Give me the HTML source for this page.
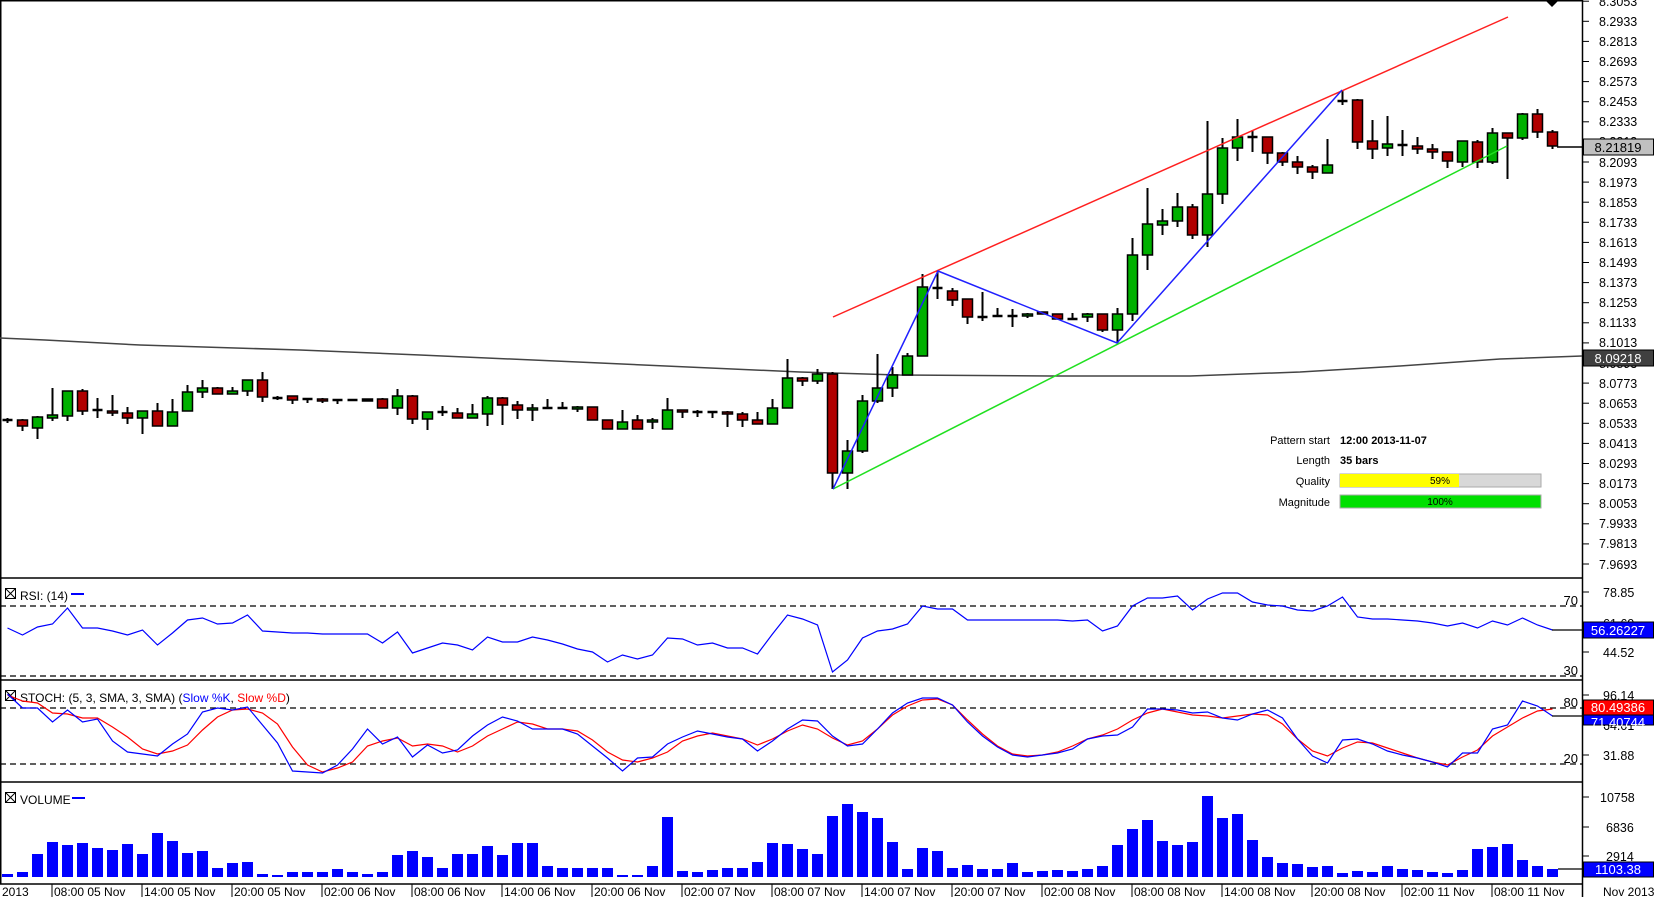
<!DOCTYPE html>
<html><head><meta charset="utf-8"><style>
html,body{margin:0;padding:0;background:#fff;}
svg{display:block;font-family:"Liberation Sans",sans-serif;}
</style></head><body>
<svg width="1655" height="897" viewBox="0 0 1655 897" xmlns="http://www.w3.org/2000/svg">
<rect width="1655" height="897" fill="#fff"/>
<g stroke="#000" stroke-width="1.5" fill="none">
<line x1="0.75" y1="0" x2="0.75" y2="884"/>
<line x1="0" y1="0.75" x2="1582" y2="0.75"/>
<line x1="1582.5" y1="0" x2="1582.5" y2="897"/>
<line x1="0" y1="578" x2="1582" y2="578"/>
<line x1="0" y1="680" x2="1582" y2="680"/>
<line x1="0" y1="782" x2="1582" y2="782"/>
<line x1="0" y1="884" x2="1582" y2="884"/>
</g>
<polygon points="1545,0 1559,0 1552,7" fill="#000"/>
<g stroke="#000" stroke-width="1">
<line x1="1582" y1="1.2" x2="1589" y2="1.2"/><line x1="1582" y1="21.3" x2="1589" y2="21.3"/><line x1="1582" y1="41.4" x2="1589" y2="41.4"/><line x1="1582" y1="61.5" x2="1589" y2="61.5"/><line x1="1582" y1="81.6" x2="1589" y2="81.6"/><line x1="1582" y1="101.7" x2="1589" y2="101.7"/><line x1="1582" y1="121.8" x2="1589" y2="121.8"/><line x1="1582" y1="141.9" x2="1589" y2="141.9"/><line x1="1582" y1="162" x2="1589" y2="162"/><line x1="1582" y1="182.1" x2="1589" y2="182.1"/><line x1="1582" y1="202.2" x2="1589" y2="202.2"/><line x1="1582" y1="222.3" x2="1589" y2="222.3"/><line x1="1582" y1="242.4" x2="1589" y2="242.4"/><line x1="1582" y1="262.5" x2="1589" y2="262.5"/><line x1="1582" y1="282.6" x2="1589" y2="282.6"/><line x1="1582" y1="302.7" x2="1589" y2="302.7"/><line x1="1582" y1="322.8" x2="1589" y2="322.8"/><line x1="1582" y1="342.9" x2="1589" y2="342.9"/><line x1="1582" y1="363" x2="1589" y2="363"/><line x1="1582" y1="383.1" x2="1589" y2="383.1"/><line x1="1582" y1="403.2" x2="1589" y2="403.2"/><line x1="1582" y1="423.3" x2="1589" y2="423.3"/><line x1="1582" y1="443.4" x2="1589" y2="443.4"/><line x1="1582" y1="463.5" x2="1589" y2="463.5"/><line x1="1582" y1="483.6" x2="1589" y2="483.6"/><line x1="1582" y1="503.7" x2="1589" y2="503.7"/><line x1="1582" y1="523.8" x2="1589" y2="523.8"/><line x1="1582" y1="543.9" x2="1589" y2="543.9"/><line x1="1582" y1="564" x2="1589" y2="564"/>
<line x1="1582" y1="592" x2="1589" y2="592"/><line x1="1582" y1="623" x2="1589" y2="623"/><line x1="1582" y1="652" x2="1589" y2="652"/>
<line x1="1582" y1="695" x2="1589" y2="695"/><line x1="1582" y1="725" x2="1589" y2="725"/><line x1="1582" y1="755" x2="1589" y2="755"/>
<line x1="1582" y1="797" x2="1589" y2="797"/><line x1="1582" y1="827" x2="1589" y2="827"/><line x1="1582" y1="856" x2="1589" y2="856"/>
</g>
<g font-size="12.5" fill="#000" text-anchor="start">
<text x="1599" y="6">8.3053</text><text x="1599" y="26">8.2933</text><text x="1599" y="46">8.2813</text><text x="1599" y="66">8.2693</text><text x="1599" y="86">8.2573</text><text x="1599" y="106">8.2453</text><text x="1599" y="126">8.2333</text><text x="1599" y="146">8.2213</text><text x="1599" y="167">8.2093</text><text x="1599" y="187">8.1973</text><text x="1599" y="207">8.1853</text><text x="1599" y="227">8.1733</text><text x="1599" y="247">8.1613</text><text x="1599" y="267">8.1493</text><text x="1599" y="287">8.1373</text><text x="1599" y="307">8.1253</text><text x="1599" y="327">8.1133</text><text x="1599" y="347">8.1013</text><text x="1599" y="368">8.0893</text><text x="1599" y="388">8.0773</text><text x="1599" y="408">8.0653</text><text x="1599" y="428">8.0533</text><text x="1599" y="448">8.0413</text><text x="1599" y="468">8.0293</text><text x="1599" y="488">8.0173</text><text x="1599" y="508">8.0053</text><text x="1599" y="528">7.9933</text><text x="1599" y="548">7.9813</text><text x="1599" y="569">7.9693</text>
<text x="1603" y="597">78.85</text><text x="1603" y="628">61.69</text><text x="1603" y="657">44.52</text>
<text x="1603" y="700">96.14</text><text x="1603" y="730">64.01</text><text x="1603" y="760">31.88</text>
<text x="1600" y="802">10758</text><text x="1606" y="832">6836</text><text x="1606" y="861">2914</text>
</g>
<polyline fill="none" stroke="#444" stroke-width="1.5" points="0,338 45,340 140,345 300,350 420,355 600,363 800,372 900,375 1050,376 1190,376 1300,372 1400,366 1500,359 1582,356"/>
<g stroke="#000" stroke-width="2">
<line x1="7.5" y1="418" x2="7.5" y2="423"/><line x1="22.5" y1="419" x2="22.5" y2="431"/><line x1="37.5" y1="416" x2="37.5" y2="439"/><line x1="52.5" y1="388" x2="52.5" y2="421"/><line x1="67.5" y1="391" x2="67.5" y2="421"/><line x1="82.5" y1="389" x2="82.5" y2="415"/><line x1="97.5" y1="398" x2="97.5" y2="418"/><line x1="112.5" y1="395" x2="112.5" y2="416"/><line x1="127.5" y1="407" x2="127.5" y2="424"/><line x1="142.5" y1="411" x2="142.5" y2="434"/><line x1="157.5" y1="403" x2="157.5" y2="426"/><line x1="172.5" y1="399" x2="172.5" y2="426"/><line x1="187.5" y1="385" x2="187.5" y2="411"/><line x1="202.5" y1="380" x2="202.5" y2="398"/><line x1="217.5" y1="387" x2="217.5" y2="394"/><line x1="232.5" y1="387" x2="232.5" y2="394"/><line x1="247.5" y1="380" x2="247.5" y2="396"/><line x1="262.5" y1="372" x2="262.5" y2="402"/><line x1="277.5" y1="396" x2="277.5" y2="400"/><line x1="292.5" y1="396" x2="292.5" y2="404"/><line x1="307.5" y1="398" x2="307.5" y2="403"/><line x1="322.5" y1="398" x2="322.5" y2="403"/><line x1="337.5" y1="400" x2="337.5" y2="404"/><line x1="352.5" y1="399" x2="352.5" y2="401"/><line x1="367.5" y1="399" x2="367.5" y2="401"/><line x1="382.5" y1="398" x2="382.5" y2="408"/><line x1="397.5" y1="389" x2="397.5" y2="415"/><line x1="412.5" y1="395" x2="412.5" y2="424"/><line x1="427.5" y1="412" x2="427.5" y2="430"/><line x1="442.5" y1="406" x2="442.5" y2="416"/><line x1="457.5" y1="408" x2="457.5" y2="418"/><line x1="472.5" y1="404" x2="472.5" y2="418"/><line x1="487.5" y1="396" x2="487.5" y2="426"/><line x1="502.5" y1="397" x2="502.5" y2="425"/><line x1="517.5" y1="401" x2="517.5" y2="419"/><line x1="532.5" y1="404" x2="532.5" y2="421"/><line x1="547.5" y1="399" x2="547.5" y2="408"/><line x1="562.5" y1="402" x2="562.5" y2="409"/><line x1="577.5" y1="406" x2="577.5" y2="412"/><line x1="592.5" y1="407" x2="592.5" y2="420"/><line x1="607.5" y1="420" x2="607.5" y2="429"/><line x1="622.5" y1="410" x2="622.5" y2="429"/><line x1="637.5" y1="415" x2="637.5" y2="429"/><line x1="652.5" y1="418" x2="652.5" y2="429"/><line x1="667.5" y1="398" x2="667.5" y2="429"/><line x1="682.5" y1="410" x2="682.5" y2="418"/><line x1="697.5" y1="410" x2="697.5" y2="417"/><line x1="712.5" y1="411" x2="712.5" y2="418"/><line x1="727.5" y1="411" x2="727.5" y2="427"/><line x1="742.5" y1="412" x2="742.5" y2="427"/><line x1="757.5" y1="412" x2="757.5" y2="424"/><line x1="772.5" y1="399" x2="772.5" y2="424"/><line x1="787.5" y1="359" x2="787.5" y2="408"/><line x1="802.5" y1="377" x2="802.5" y2="386"/><line x1="817.5" y1="369" x2="817.5" y2="384"/><line x1="832.5" y1="372" x2="832.5" y2="489"/><line x1="847.5" y1="440" x2="847.5" y2="489"/><line x1="862.5" y1="395" x2="862.5" y2="453"/><line x1="877.5" y1="354" x2="877.5" y2="403"/><line x1="892.5" y1="367" x2="892.5" y2="397"/><line x1="907.5" y1="353" x2="907.5" y2="375"/><line x1="922.5" y1="274" x2="922.5" y2="356"/><line x1="937.5" y1="271" x2="937.5" y2="299"/><line x1="952.5" y1="288" x2="952.5" y2="306"/><line x1="967.5" y1="299" x2="967.5" y2="324"/><line x1="982.5" y1="292" x2="982.5" y2="321"/><line x1="997.5" y1="308" x2="997.5" y2="316"/><line x1="1012.5" y1="309" x2="1012.5" y2="327"/><line x1="1027.5" y1="313" x2="1027.5" y2="318"/><line x1="1042.5" y1="312" x2="1042.5" y2="314"/><line x1="1057.5" y1="314" x2="1057.5" y2="319"/><line x1="1072.5" y1="313" x2="1072.5" y2="319"/><line x1="1087.5" y1="313" x2="1087.5" y2="322"/><line x1="1102.5" y1="314" x2="1102.5" y2="332"/><line x1="1117.5" y1="308" x2="1117.5" y2="343"/><line x1="1132.5" y1="238" x2="1132.5" y2="321"/><line x1="1147.5" y1="188" x2="1147.5" y2="270"/><line x1="1162.5" y1="209" x2="1162.5" y2="235"/><line x1="1177.5" y1="193" x2="1177.5" y2="227"/><line x1="1192.5" y1="204" x2="1192.5" y2="239"/><line x1="1207.5" y1="121" x2="1207.5" y2="247"/><line x1="1222.5" y1="138" x2="1222.5" y2="204"/><line x1="1237.5" y1="119" x2="1237.5" y2="161"/><line x1="1252.5" y1="130" x2="1252.5" y2="152"/><line x1="1267.5" y1="137" x2="1267.5" y2="164"/><line x1="1282.5" y1="152" x2="1282.5" y2="166"/><line x1="1297.5" y1="156" x2="1297.5" y2="174"/><line x1="1312.5" y1="165" x2="1312.5" y2="179"/><line x1="1327.5" y1="139" x2="1327.5" y2="173"/><line x1="1342.5" y1="90" x2="1342.5" y2="105"/><line x1="1357.5" y1="99" x2="1357.5" y2="149"/><line x1="1372.5" y1="120" x2="1372.5" y2="159"/><line x1="1387.5" y1="116" x2="1387.5" y2="156"/><line x1="1402.5" y1="130" x2="1402.5" y2="156"/><line x1="1417.5" y1="137" x2="1417.5" y2="154"/><line x1="1432.5" y1="144" x2="1432.5" y2="159"/><line x1="1447.5" y1="152" x2="1447.5" y2="168"/><line x1="1462.5" y1="141" x2="1462.5" y2="167"/><line x1="1477.5" y1="140" x2="1477.5" y2="168"/><line x1="1492.5" y1="128" x2="1492.5" y2="164"/><line x1="1507.5" y1="133" x2="1507.5" y2="179"/><line x1="1522.5" y1="113" x2="1522.5" y2="140"/><line x1="1537.5" y1="109" x2="1537.5" y2="138"/><line x1="1552.5" y1="130" x2="1552.5" y2="149"/>
<g stroke-width="2.5"><line x1="2.5" y1="420" x2="12.5" y2="420"/><line x1="92.5" y1="410" x2="102.5" y2="410"/><line x1="272.5" y1="398" x2="282.5" y2="398"/><line x1="302.5" y1="399" x2="312.5" y2="399"/><line x1="332.5" y1="400" x2="342.5" y2="400"/><line x1="347.5" y1="400" x2="357.5" y2="400"/><line x1="437.5" y1="412" x2="447.5" y2="412"/><line x1="542.5" y1="408" x2="552.5" y2="408"/><line x1="557.5" y1="408" x2="567.5" y2="408"/><line x1="692.5" y1="412" x2="702.5" y2="412"/><line x1="707.5" y1="412" x2="717.5" y2="412"/><line x1="932.5" y1="288" x2="942.5" y2="288"/><line x1="977.5" y1="317" x2="987.5" y2="317"/><line x1="992.5" y1="316" x2="1002.5" y2="316"/><line x1="1007.5" y1="316" x2="1017.5" y2="316"/><line x1="1067.5" y1="319" x2="1077.5" y2="319"/><line x1="1247.5" y1="137" x2="1257.5" y2="137"/><line x1="1337.5" y1="101" x2="1347.5" y2="101"/><line x1="1397.5" y1="145" x2="1407.5" y2="145"/></g>
</g>
<g stroke="#000" stroke-width="1.5">
<g fill="#b00000">
<rect x="17.5" y="420" width="10" height="6"/><rect x="77.5" y="391" width="10" height="20"/><rect x="107.5" y="411" width="10" height="2"/><rect x="122.5" y="413" width="10" height="5"/><rect x="152.5" y="411" width="10" height="15"/><rect x="212.5" y="388" width="10" height="6"/><rect x="257.5" y="380" width="10" height="17"/><rect x="287.5" y="396" width="10" height="4"/><rect x="317.5" y="399" width="10" height="2"/><rect x="362.5" y="399" width="10" height="2" fill="#000"/><rect x="377.5" y="399" width="10" height="9"/><rect x="407.5" y="396" width="10" height="23"/><rect x="452.5" y="413" width="10" height="5"/><rect x="497.5" y="398" width="10" height="7"/><rect x="512.5" y="405" width="10" height="5"/><rect x="587.5" y="407" width="10" height="13"/><rect x="602.5" y="420" width="10" height="9"/><rect x="632.5" y="420" width="10" height="9"/><rect x="677.5" y="410" width="10" height="2"/><rect x="722.5" y="412" width="10" height="2"/><rect x="737.5" y="414" width="10" height="6"/><rect x="752.5" y="420" width="10" height="4"/><rect x="797.5" y="378" width="10" height="3"/><rect x="827.5" y="374" width="10" height="99"/><rect x="947.5" y="291" width="10" height="9"/><rect x="962.5" y="299" width="10" height="18"/><rect x="1037.5" y="312" width="10" height="2"/><rect x="1052.5" y="314" width="10" height="5"/><rect x="1097.5" y="314" width="10" height="16"/><rect x="1187.5" y="207" width="10" height="28"/><rect x="1262.5" y="137" width="10" height="16"/><rect x="1277.5" y="153" width="10" height="9"/><rect x="1292.5" y="162" width="10" height="5"/><rect x="1307.5" y="167" width="10" height="5"/><rect x="1352.5" y="100" width="10" height="42"/><rect x="1367.5" y="141" width="10" height="8"/><rect x="1412.5" y="146" width="10" height="3"/><rect x="1427.5" y="149" width="10" height="3"/><rect x="1442.5" y="152" width="10" height="9"/><rect x="1472.5" y="142" width="10" height="20"/><rect x="1502.5" y="133" width="10" height="5"/><rect x="1532.5" y="114" width="10" height="18"/><rect x="1547.5" y="132" width="10" height="14"/>
</g>
<g fill="#00b000">
<rect x="32.5" y="417" width="10" height="11"/><rect x="47.5" y="415" width="10" height="3"/><rect x="62.5" y="391" width="10" height="25"/><rect x="137.5" y="411" width="10" height="7"/><rect x="167.5" y="412" width="10" height="14"/><rect x="182.5" y="392" width="10" height="19"/><rect x="197.5" y="388" width="10" height="4"/><rect x="227.5" y="391" width="10" height="3"/><rect x="242.5" y="380" width="10" height="11"/><rect x="392.5" y="396" width="10" height="12"/><rect x="422.5" y="412" width="10" height="7"/><rect x="467.5" y="414" width="10" height="4"/><rect x="482.5" y="398" width="10" height="16"/><rect x="527.5" y="408" width="10" height="2"/><rect x="572.5" y="407" width="10" height="2"/><rect x="617.5" y="422" width="10" height="7"/><rect x="647.5" y="420" width="10" height="2"/><rect x="662.5" y="410" width="10" height="19"/><rect x="767.5" y="408" width="10" height="16"/><rect x="782.5" y="378" width="10" height="30"/><rect x="812.5" y="374" width="10" height="7"/><rect x="842.5" y="451" width="10" height="22"/><rect x="857.5" y="401" width="10" height="50"/><rect x="872.5" y="388" width="10" height="13"/><rect x="887.5" y="375" width="10" height="13"/><rect x="902.5" y="356" width="10" height="19"/><rect x="917.5" y="287" width="10" height="69"/><rect x="1022.5" y="314" width="10" height="2"/><rect x="1082.5" y="314" width="10" height="3"/><rect x="1112.5" y="314" width="10" height="16"/><rect x="1127.5" y="255" width="10" height="59"/><rect x="1142.5" y="224" width="10" height="31"/><rect x="1157.5" y="221" width="10" height="4"/><rect x="1172.5" y="207" width="10" height="14"/><rect x="1202.5" y="194" width="10" height="41"/><rect x="1217.5" y="148" width="10" height="46"/><rect x="1232.5" y="137" width="10" height="11"/><rect x="1322.5" y="165" width="10" height="8"/><rect x="1382.5" y="144" width="10" height="4"/><rect x="1457.5" y="141" width="10" height="21"/><rect x="1487.5" y="133" width="10" height="29"/><rect x="1517.5" y="114" width="10" height="24"/>
</g>
</g>
<line x1="1557" y1="147" x2="1582" y2="147" stroke="#000" stroke-width="1.5"/>
<line x1="833" y1="317" x2="1508" y2="17" stroke="#ff2020" stroke-width="1.5"/>
<line x1="833" y1="489" x2="1507" y2="146" stroke="#20e020" stroke-width="1.5"/>
<polyline fill="none" stroke="#2020ff" stroke-width="1.5" points="833,489 938,271 1117,343 1342,90"/>
<rect x="1583.5" y="139" width="70" height="16" fill="#c0c0c0" stroke="#000"/>
<text x="1618" y="152" font-size="13" text-anchor="middle">8.21819</text>
<rect x="1583.5" y="350" width="70" height="16" fill="#404040" stroke="#000"/>
<text x="1618" y="363" font-size="13" text-anchor="middle" fill="#fff">8.09218</text>
<g font-size="11" fill="#000">
<text x="1330" y="444" text-anchor="end">Pattern start</text><text x="1340" y="444" font-weight="bold">12:00 2013-11-07</text>
<text x="1330" y="464" text-anchor="end">Length</text><text x="1340" y="464" font-weight="bold">35 bars</text>
<text x="1330" y="485" text-anchor="end">Quality</text>
<text x="1330" y="506" text-anchor="end">Magnitude</text>
</g>
<rect x="1340" y="474" width="201" height="13" fill="#d8d8d8" stroke="#aaa"/>
<rect x="1340" y="474" width="119" height="13" fill="#ffff00"/>
<text x="1440" y="484" font-size="10" text-anchor="middle">59%</text>
<rect x="1340" y="495" width="201" height="13" fill="#00e000" stroke="#aaa"/>
<text x="1440" y="505" font-size="10" text-anchor="middle">100%</text>
<g stroke="#000" stroke-dasharray="6,4" stroke-width="1.2">
<line x1="0" y1="606" x2="1582" y2="606"/><line x1="0" y1="676" x2="1582" y2="676"/>
<line x1="0" y1="708" x2="1582" y2="708"/><line x1="0" y1="764" x2="1582" y2="764"/>
</g>
<g font-size="13"><text x="1578" y="605" text-anchor="end">70</text><text x="1578" y="675" text-anchor="end">30</text>
<text x="1578" y="707" text-anchor="end">80</text><text x="1578" y="763" text-anchor="end">20</text></g>
<g stroke="#000" fill="#fff" stroke-width="1"><rect x="5.5" y="588.5" width="10" height="10"/><rect x="5.5" y="690.5" width="10" height="10"/><rect x="5.5" y="792.5" width="10" height="10"/></g>
<g stroke="#000" stroke-width="1"><line x1="5.5" y1="588.5" x2="15.5" y2="598.5"/><line x1="15.5" y1="588.5" x2="5.5" y2="598.5"/><line x1="5.5" y1="690.5" x2="15.5" y2="700.5"/><line x1="15.5" y1="690.5" x2="5.5" y2="700.5"/><line x1="5.5" y1="792.5" x2="15.5" y2="802.5"/><line x1="15.5" y1="792.5" x2="5.5" y2="802.5"/></g>
<g font-size="12"><text x="20" y="600">RSI: (14)</text>
<text x="20" y="702">STOCH: (5, 3, SMA, 3, SMA) (<tspan fill="#0000ff">Slow %K</tspan>, <tspan fill="#ff0000">Slow %D</tspan>)</text>
<text x="20" y="804">VOLUME</text></g>
<line x1="71" y1="594" x2="84" y2="594" stroke="#0000ff" stroke-width="2"/>
<line x1="72" y1="798" x2="85" y2="798" stroke="#0000ff" stroke-width="2"/>
<polyline fill="none" stroke="#0000ff" stroke-width="1.2" points="7.5,628 22.5,635 37.5,627 52.5,624 67.5,608 82.5,628 97.5,628 112.5,631 127.5,635 142.5,630 157.5,645 172.5,633 187.5,620 202.5,618 217.5,624 232.5,623 247.5,615 262.5,631 277.5,632 292.5,633 307.5,633 322.5,634 337.5,634 352.5,634 367.5,634 382.5,643 397.5,632 412.5,653 427.5,648 442.5,643 457.5,645 472.5,650 487.5,637 502.5,642 517.5,642 532.5,637 547.5,640 562.5,644 577.5,649 592.5,652 607.5,662 622.5,655 637.5,659 652.5,655 667.5,638 682.5,639 697.5,645 712.5,643 727.5,648 742.5,648 757.5,654 772.5,634 787.5,615 802.5,619 817.5,625 832.5,672 847.5,660 862.5,638 877.5,631 892.5,629 907.5,624 922.5,606 937.5,609 952.5,609 967.5,620 982.5,620 997.5,620 1012.5,620 1027.5,620 1042.5,620 1057.5,620 1072.5,621 1087.5,620 1102.5,631 1117.5,626 1132.5,606 1147.5,598 1162.5,598 1177.5,596 1192.5,610 1207.5,599 1222.5,593 1237.5,593 1252.5,602 1267.5,605 1282.5,606 1297.5,610 1312.5,611 1327.5,606 1342.5,597 1357.5,617 1372.5,619 1387.5,619 1402.5,620 1417.5,621 1432.5,623 1447.5,626 1462.5,623 1477.5,628 1492.5,621 1507.5,625 1522.5,618 1537.5,625 1552.5,630"/>
<line x1="1552" y1="630" x2="1582" y2="630" stroke="#000" stroke-width="1.2"/>
<rect x="1583.5" y="622" width="70" height="16" fill="#0000ff" stroke="#000"/>
<text x="1618" y="635" font-size="13" text-anchor="middle" fill="#fff">56.26227</text>
<polyline fill="none" stroke="#ff0000" stroke-width="1.2" points="7.5,695 22.5,701 37.5,703 52.5,713 67.5,714 82.5,718 97.5,718 112.5,727 127.5,737 142.5,749 157.5,754 172.5,751 187.5,745 202.5,730 217.5,717 232.5,710 247.5,709 262.5,713 277.5,724 292.5,747 307.5,765 322.5,772 337.5,768 352.5,762 367.5,746 382.5,741 397.5,738 412.5,746 427.5,744 442.5,746 457.5,752 472.5,746 487.5,736 502.5,729 517.5,722 532.5,724 547.5,729 562.5,729 577.5,731 592.5,740 607.5,752 622.5,760 637.5,762 652.5,758 667.5,752 682.5,741 697.5,736 712.5,733 727.5,736 742.5,739 757.5,745 772.5,739 787.5,731 802.5,725 817.5,729 832.5,738 847.5,745 862.5,741 877.5,729 892.5,715 907.5,706 922.5,700 937.5,699 952.5,705 967.5,720 982.5,734 997.5,746 1012.5,754 1027.5,756 1042.5,755 1057.5,752 1072.5,746 1087.5,739 1102.5,735 1117.5,729 1132.5,720 1147.5,713 1162.5,709 1177.5,712 1192.5,715 1207.5,716 1222.5,718 1237.5,716 1252.5,714 1267.5,715 1282.5,724 1297.5,739 1312.5,751 1327.5,756 1342.5,748 1357.5,742 1372.5,743 1387.5,748 1402.5,753 1417.5,758 1432.5,762 1447.5,765 1462.5,757 1477.5,750 1492.5,736 1507.5,727 1522.5,718 1537.5,711 1552.5,709"/>
<polyline fill="none" stroke="#0000ff" stroke-width="1.2" points="7.5,694 22.5,708 37.5,708 52.5,722 67.5,710 82.5,722 97.5,719 112.5,741 127.5,752 142.5,754 157.5,756 172.5,744 187.5,734 202.5,712 217.5,708 232.5,710 247.5,707 262.5,725 277.5,743 292.5,771 307.5,772 322.5,773 337.5,765 352.5,749 367.5,729 382.5,744 397.5,737 412.5,757 427.5,745 442.5,753 457.5,750 472.5,736 487.5,725 502.5,717 517.5,721 532.5,729 547.5,729 562.5,729 577.5,734 592.5,746 607.5,758 622.5,771 637.5,758 652.5,757 667.5,744 682.5,737 697.5,731 712.5,734 727.5,737 742.5,739 757.5,751 772.5,741 787.5,729 802.5,720 817.5,721 832.5,736 847.5,746 862.5,744 877.5,729 892.5,713 907.5,703 922.5,698 937.5,698 952.5,705 967.5,722 982.5,736 997.5,747 1012.5,755 1027.5,757 1042.5,755 1057.5,753 1072.5,749 1087.5,739 1102.5,736 1117.5,735 1132.5,727 1147.5,709 1162.5,709 1177.5,710 1192.5,713 1207.5,712 1222.5,718 1237.5,720 1252.5,714 1267.5,710 1282.5,718 1297.5,739 1312.5,756 1327.5,763 1342.5,740 1357.5,739 1372.5,744 1387.5,751 1402.5,755 1417.5,758 1432.5,762 1447.5,767 1462.5,753 1477.5,753 1492.5,729 1507.5,725 1522.5,701 1537.5,706 1552.5,716"/>
<line x1="1552" y1="716" x2="1582" y2="716" stroke="#000" stroke-width="1.2"/>
<rect x="1583.5" y="713" width="70" height="12" fill="#0000ff" stroke="#000"/>
<text x="1618" y="727" font-size="13" text-anchor="middle" fill="#fff">71.40744</text>
<rect x="1583.5" y="700" width="70" height="15" fill="#ff0000" stroke="#000"/>
<text x="1618" y="712" font-size="13" text-anchor="middle" fill="#fff">80.49386</text>
<g fill="#0000ff">
<rect x="2" y="874" width="11" height="3"/><rect x="17" y="872" width="11" height="5"/><rect x="32" y="854" width="11" height="23"/><rect x="47" y="842" width="11" height="35"/><rect x="62" y="845" width="11" height="32"/><rect x="77" y="843" width="11" height="34"/><rect x="92" y="848" width="11" height="29"/><rect x="107" y="850" width="11" height="27"/><rect x="122" y="844" width="11" height="33"/><rect x="137" y="854" width="11" height="23"/><rect x="152" y="833" width="11" height="44"/><rect x="167" y="841" width="11" height="36"/><rect x="182" y="853" width="11" height="24"/><rect x="197" y="851" width="11" height="26"/><rect x="212" y="868" width="11" height="9"/><rect x="227" y="863" width="11" height="14"/><rect x="242" y="862" width="11" height="15"/><rect x="257" y="874" width="11" height="3"/><rect x="272" y="875" width="11" height="2"/><rect x="287" y="872" width="11" height="5"/><rect x="302" y="872" width="11" height="5"/><rect x="317" y="872" width="11" height="5"/><rect x="332" y="869" width="11" height="8"/><rect x="347" y="872" width="11" height="5"/><rect x="362" y="874" width="11" height="3"/><rect x="377" y="872" width="11" height="5"/><rect x="392" y="855" width="11" height="22"/><rect x="407" y="851" width="11" height="26"/><rect x="422" y="857" width="11" height="20"/><rect x="437" y="868" width="11" height="9"/><rect x="452" y="854" width="11" height="23"/><rect x="467" y="854" width="11" height="23"/><rect x="482" y="846" width="11" height="31"/><rect x="497" y="855" width="11" height="22"/><rect x="512" y="843" width="11" height="34"/><rect x="527" y="843" width="11" height="34"/><rect x="542" y="866" width="11" height="11"/><rect x="557" y="868" width="11" height="9"/><rect x="572" y="868" width="11" height="9"/><rect x="587" y="868" width="11" height="9"/><rect x="602" y="868" width="11" height="9"/><rect x="617" y="875" width="11" height="2"/><rect x="632" y="875" width="11" height="2"/><rect x="647" y="866" width="11" height="11"/><rect x="662" y="817" width="11" height="60"/><rect x="677" y="871" width="11" height="6"/><rect x="692" y="872" width="11" height="5"/><rect x="707" y="870" width="11" height="7"/><rect x="722" y="868" width="11" height="9"/><rect x="737" y="868" width="11" height="9"/><rect x="752" y="862" width="11" height="15"/><rect x="767" y="843" width="11" height="34"/><rect x="782" y="844" width="11" height="33"/><rect x="797" y="849" width="11" height="28"/><rect x="812" y="854" width="11" height="23"/><rect x="827" y="816" width="11" height="61"/><rect x="842" y="804" width="11" height="73"/><rect x="857" y="812" width="11" height="65"/><rect x="872" y="818" width="11" height="59"/><rect x="887" y="842" width="11" height="35"/><rect x="902" y="869" width="11" height="8"/><rect x="917" y="848" width="11" height="29"/><rect x="932" y="851" width="11" height="26"/><rect x="947" y="868" width="11" height="9"/><rect x="962" y="865" width="11" height="12"/><rect x="977" y="869" width="11" height="8"/><rect x="992" y="869" width="11" height="8"/><rect x="1007" y="863" width="11" height="14"/><rect x="1022" y="872" width="11" height="5"/><rect x="1037" y="871" width="11" height="6"/><rect x="1052" y="870" width="11" height="7"/><rect x="1067" y="871" width="11" height="6"/><rect x="1082" y="869" width="11" height="8"/><rect x="1097" y="866" width="11" height="11"/><rect x="1112" y="845" width="11" height="32"/><rect x="1127" y="829" width="11" height="48"/><rect x="1142" y="820" width="11" height="57"/><rect x="1157" y="841" width="11" height="36"/><rect x="1172" y="845" width="11" height="32"/><rect x="1187" y="842" width="11" height="35"/><rect x="1202" y="796" width="11" height="81"/><rect x="1217" y="818" width="11" height="59"/><rect x="1232" y="814" width="11" height="63"/><rect x="1247" y="840" width="11" height="37"/><rect x="1262" y="857" width="11" height="20"/><rect x="1277" y="863" width="11" height="14"/><rect x="1292" y="864" width="11" height="13"/><rect x="1307" y="867" width="11" height="10"/><rect x="1322" y="866" width="11" height="11"/><rect x="1337" y="873" width="11" height="4"/><rect x="1352" y="871" width="11" height="6"/><rect x="1367" y="872" width="11" height="5"/><rect x="1382" y="866" width="11" height="11"/><rect x="1397" y="869" width="11" height="8"/><rect x="1412" y="870" width="11" height="7"/><rect x="1427" y="872" width="11" height="5"/><rect x="1442" y="873" width="11" height="4"/><rect x="1457" y="870" width="11" height="7"/><rect x="1472" y="849" width="11" height="28"/><rect x="1487" y="847" width="11" height="30"/><rect x="1502" y="844" width="11" height="33"/><rect x="1517" y="860" width="11" height="17"/><rect x="1532" y="866" width="11" height="11"/><rect x="1547" y="869" width="11" height="8"/>
</g>
<line x1="1558" y1="869" x2="1582" y2="869" stroke="#000" stroke-width="1.2"/>
<rect x="1583.5" y="862" width="70" height="15" fill="#0000ff" stroke="#000"/>
<text x="1618" y="874" font-size="13" text-anchor="middle" fill="#fff">1103.38</text>
<g stroke="#000" stroke-width="1">
<line x1="52" y1="884" x2="52" y2="897"/><line x1="142" y1="884" x2="142" y2="897"/><line x1="232" y1="884" x2="232" y2="897"/><line x1="322" y1="884" x2="322" y2="897"/><line x1="412" y1="884" x2="412" y2="897"/><line x1="502" y1="884" x2="502" y2="897"/><line x1="592" y1="884" x2="592" y2="897"/><line x1="682" y1="884" x2="682" y2="897"/><line x1="772" y1="884" x2="772" y2="897"/><line x1="862" y1="884" x2="862" y2="897"/><line x1="952" y1="884" x2="952" y2="897"/><line x1="1042" y1="884" x2="1042" y2="897"/><line x1="1132" y1="884" x2="1132" y2="897"/><line x1="1222" y1="884" x2="1222" y2="897"/><line x1="1312" y1="884" x2="1312" y2="897"/><line x1="1402" y1="884" x2="1402" y2="897"/><line x1="1492" y1="884" x2="1492" y2="897"/>
</g>
<g font-size="12">
<text x="2" y="896">2013</text>
<text x="54" y="896">08:00 05 Nov</text><text x="144" y="896">14:00 05 Nov</text><text x="234" y="896">20:00 05 Nov</text><text x="324" y="896">02:00 06 Nov</text><text x="414" y="896">08:00 06 Nov</text><text x="504" y="896">14:00 06 Nov</text><text x="594" y="896">20:00 06 Nov</text><text x="684" y="896">02:00 07 Nov</text><text x="774" y="896">08:00 07 Nov</text><text x="864" y="896">14:00 07 Nov</text><text x="954" y="896">20:00 07 Nov</text><text x="1044" y="896">02:00 08 Nov</text><text x="1134" y="896">08:00 08 Nov</text><text x="1224" y="896">14:00 08 Nov</text><text x="1314" y="896">20:00 08 Nov</text><text x="1404" y="896">02:00 11 Nov</text><text x="1494" y="896">08:00 11 Nov</text>
<text x="1603" y="896">Nov 2013</text>
</g>
</svg>
</body></html>
